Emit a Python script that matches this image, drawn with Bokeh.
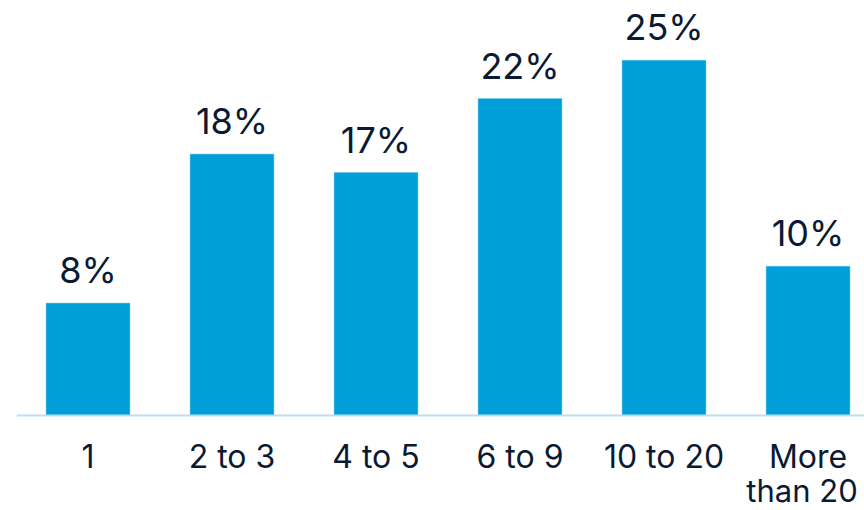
from bokeh.plotting import figure
from bokeh.models import ColumnDataSource, LabelSet, Range1d, Span
from bokeh.core.properties import value
from bokeh.embed import file_html
from bokeh.resources import INLINE

categories = ["1", "2 to 3", "4 to 5", "6 to 9", "10 to 20", "More\nthan 20"]
values = [7.9, 18.4, 17.1, 22.3, 25.0, 10.5]
value_labels = ["8%", "18%", "17%", "22%", "25%", "10%"]

positions = list(range(len(categories)))
line1 = [c.split("\n")[0] for c in categories]
line2 = [c.split("\n")[1] if "\n" in c else "" for c in categories]
src = ColumnDataSource(dict(x=positions, top=values, label=value_labels,
                            base=[0] * len(values), l1=line1, l2=line2))

FONT = "Inter"
TEXT_COLOR = "#0b1a33"
BAR_COLOR = "#009fd9"

W, H = 864, 510

p = figure(width=W, height=H, output_backend="svg", toolbar_location=None,
           x_range=Range1d(-0.4965, 5.392), y_range=Range1d(-6.69, 29.225),
           min_border_left=16, min_border_right=0, min_border_top=0,
           min_border_bottom=0)

p.vbar(x="x", top="top", bottom=0, width=0.58, source=src,
       fill_color=BAR_COLOR, line_color=BAR_COLOR, line_width=0.5)

# baseline (category axis line)
p.add_layout(Span(location=0, dimension="width", line_color="#bfdcf5", line_width=2))

labels = LabelSet(x="x", y="top", text="label", source=src, y_offset=20,
                  text_align="center", text_baseline="alphabetic",
                  text_font=value(FONT), text_font_size="36px", text_color=TEXT_COLOR)
p.add_layout(labels)

for col, xoff, yoff, size in (("l1", 0, -52, "32px"), ("l2", -6, -86, "31px")):
    p.add_layout(LabelSet(x="x", y="base", text=col, source=src,
                          x_offset=xoff, y_offset=yoff,
                          text_align="center", text_baseline="alphabetic",
                          text_font=value(FONT), text_font_size=size,
                          text_color=TEXT_COLOR))

p.axis.visible = False
p.grid.visible = False
p.outline_line_color = None

open("out.html", "w").write(file_html(p, INLINE))
